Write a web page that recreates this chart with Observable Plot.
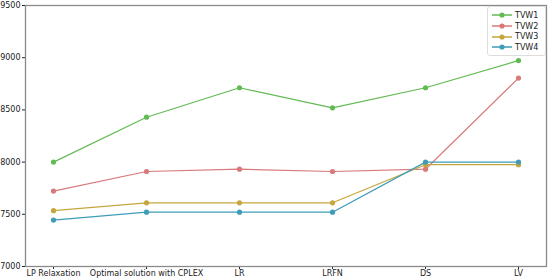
<!DOCTYPE html>
<html><head><meta charset="utf-8">
<script src="https://cdn.jsdelivr.net/npm/d3@7"></script>
<script src="https://cdn.jsdelivr.net/npm/@observablehq/plot@0.6"></script>
<style>
body{margin:0;background:#fff;}
#c{position:relative;width:550px;height:280px;font-family:"DejaVu Sans",sans-serif;}
#legend{position:absolute;left:487px;top:6px;width:57px;padding:3px 0 2px 0;border:1px solid #ddd;border-radius:3px;background:rgba(255,255,255,0.85);font-size:8px;color:#222;}
#legend .row{display:flex;align-items:center;height:10.7px;}
#legend svg{margin:0 3px 0 4px;}
</style>
</head><body><div id="c"><div id="legend"></div></div>
<script>
const categories = ["LP Relaxation", "Optimal solution with CPLEX", "LR", "LRFN", "DS", "LV"];
const seriesNames = ["TVW1", "TVW2", "TVW3", "TVW4"];
const tvw1 = [8000, 8430, 8712, 8520, 8712, 8972];
const tvw2 = [7722, 7910, 7932, 7910, 7932, 8805];
const tvw3 = [7535, 7610, 7610, 7610, 7975, 7975];
const tvw4 = [7445, 7520, 7520, 7520, 8000, 8000];
const yTicks = [7000, 7500, 8000, 8500, 9000, 9500];
const colors = ["#62bb52", "#d9797a", "#c6a63c", "#3f9cb8"];

const seriesValues = [tvw1, tvw2, tvw3, tvw4];
const data = seriesNames.flatMap((s, i) => categories.map((c, j) => ({series: s, cat: c, value: seriesValues[i][j]})));

const marks = [Plot.frame({stroke: "#8a8a8a", strokeWidth: 1.3})];
seriesNames.forEach(s => {
  const d = data.filter(r => r.series === s);
  marks.push(Plot.line(d, {x: "cat", y: "value", stroke: "series", strokeWidth: 1.2}));
  marks.push(Plot.dot(d, {x: "cat", y: "value", fill: "series", r: 2.6}));
});

const chart = Plot.plot({
  width: 550, height: 280,
  marginLeft: 25, marginRight: 4, marginTop: 5, marginBottom: 14,
  style: {fontFamily: "DejaVu Sans", fontSize: "8px", color: "#222", background: "#fff"},
  x: {type: "point", domain: categories, padding: 0.277, label: null, tickSize: 3, tickPadding: 1},
  y: {domain: [7000, 9500], ticks: yTicks, tickFormat: d => String(d), label: null, tickSize: 3, tickPadding: 2},
  color: {domain: seriesNames, range: colors},
  marks
});
document.getElementById("c").prepend(chart);

const legend = document.getElementById("legend");
seriesNames.forEach((s, i) => {
  const row = document.createElement("div");
  row.className = "row";
  row.innerHTML = `<svg width="20" height="8"><line x1="0" x2="20" y1="4" y2="4" stroke="${colors[i]}" stroke-width="1.5"/><circle cx="10" cy="4" r="2.6" fill="${colors[i]}"/></svg><span>${s}</span>`;
  legend.appendChild(row);
});
</script>
</body></html>
